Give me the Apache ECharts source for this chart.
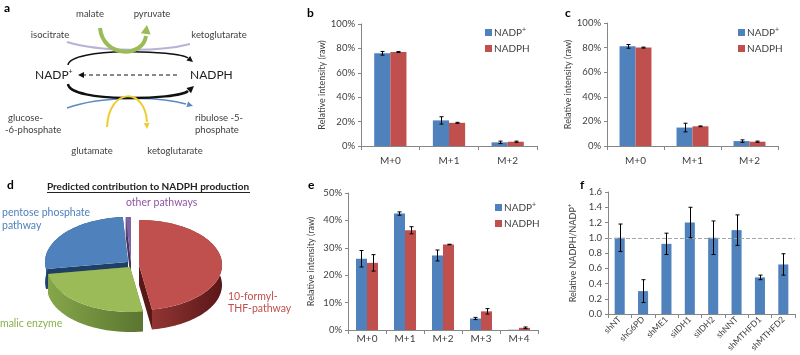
<!DOCTYPE html>
<html>
<head>
<meta charset="utf-8">
<script src="https://cdn.jsdelivr.net/npm/echarts@6/dist/echarts.min.js"></script>
<style>
html, body { margin: 0; padding: 0; background: #fff; }
#chart { width: 800px; height: 355px; }
</style>
</head>
<body>
<div id="chart"></div>
<script>
const FONT = 'Lato';
const BLUE = '#4F81BD';
const RED = '#C0504D';
const INK = '#404040';

// b: isotope labelling of NADP+/NADPH (raw)
const isoB = ['M+0', 'M+1', 'M+2'];
const bNadp = [76, 21, 3];
const bNadpErr = [1.5, 3, 1];
const bNadph = [77, 19, 3.5];
const bNadphErr = [0.4, 0.4, 0.5];

// c
const cNadp = [81, 15, 4];
const cNadpErr = [1.5, 3.5, 1];
const cNadph = [80, 16, 3.5];
const cNadphErr = [0.4, 0.3, 0.5];

// e
const isoE = ['M+0', 'M+1', 'M+2', 'M+3', 'M+4'];
const eNadp = [26, 42.5, 27.2, 4.2, 0.1];
const eNadpErr = [3, 0.6, 2, 0.4, 0];
const eNadph = [24.5, 36.4, 31.2, 6.8, 0.8];
const eNadphErr = [3, 1.3, 0.1, 1, 0.3];

// f: knockdowns
const knockdowns = ['shNT', 'shG6PD', 'shME1', 'siIDH1', 'siIDH2', 'shNNT', 'shMTHFD1', 'shMTHFD2'];
const ratio = [1.0, 0.3, 0.92, 1.2, 1.0, 1.1, 0.48, 0.65];
const ratioErr = [0.18, 0.15, 0.14, 0.2, 0.22, 0.2, 0.03, 0.14];

// d: predicted contribution (%)
const pieNames = ['10-formyl-THF-pathway', 'malic enzyme', 'pentose phosphate pathway', 'other pathways'];
const pieValues = [47.5, 25, 26.5, 1];

// pie drawing style
const PIE = { cx: 130, cy: 265, rx: 83, ry: 45, depth: 20 };
const pieTop = ['#C0504D', '#9BBB59', '#4F81BD', '#8064A2'];
const pieSide = [['#9c3b39', '#5a1717'], ['#86a64a', '#5a7530'], ['#2f5a8c', '#1f3f66'], ['#5e4880', '#45335f']];
const pieShift = [[9, 0], [0, 2], [-2, -3], [1, -3]];

const chart = echarts.init(document.getElementById('chart'));

function xAx(gi, data, fs, rotate, margin) {
  return {
    type: 'category', gridIndex: gi, data: data,
    axisLine: { lineStyle: { color: '#868686' } },
    axisTick: { show: true, length: 4, lineStyle: { color: '#868686' } },
    axisLabel: { fontSize: fs, color: INK, fontFamily: FONT, rotate: rotate, margin: margin, interval: 0 }
  };
}

function yAx(gi, max, interval, fmt, name, gap) {
  return {
    type: 'value', gridIndex: gi, min: 0, max: max, interval: interval,
    axisLine: { show: true, lineStyle: { color: '#868686' } },
    axisTick: { show: true, length: 3, lineStyle: { color: '#868686' } },
    splitLine: { show: false },
    axisLabel: { fontSize: 9.5, color: INK, fontFamily: FONT, margin: 6, formatter: fmt },
    name: name, nameLocation: 'middle', nameGap: gap,
    nameTextStyle: {
      fontSize: 9, color: INK, fontFamily: FONT,
      rich: { n: { fontSize: 9, color: INK, fontFamily: FONT }, s: { fontSize: 6, color: INK, fontFamily: FONT, padding: [0, 0, 6, 0] } }
    }
  };
}

function bar(name, gi, vals, color, gap) {
  return {
    type: 'bar', name: name, xAxisIndex: gi, yAxisIndex: gi, data: vals,
    barCategoryGap: gap, barGap: '0%', itemStyle: { color: color }, silent: true
  };
}

function errs(gi, vals, err, side, gap, nBars) {
  return {
    type: 'custom', xAxisIndex: gi, yAxisIndex: gi, silent: true, z: 5,
    data: vals.map((v, i) => [i, v, err[i]]),
    renderItem: function (params, api) {
      const i = api.value(0), v = api.value(1), e = api.value(2);
      if (!(e > 0)) return null;
      const hi = api.coord([i, v + e]);
      const lo = api.coord([i, v - e]);
      const bw = api.size([1, 0])[0] * (1 - gap) / nBars;
      const x = Math.round(hi[0] + side * bw / 2) + 0.5;
      const st = { stroke: '#000', lineWidth: 1 };
      return {
        type: 'group', children: [
          { type: 'line', shape: { x1: x, y1: hi[1], x2: x, y2: lo[1] }, style: st },
          { type: 'line', shape: { x1: x - 2, y1: hi[1], x2: x + 2, y2: hi[1] }, style: st },
          { type: 'line', shape: { x1: x - 2, y1: lo[1], x2: x + 2, y2: lo[1] }, style: st }
        ]
      };
    }
  };
}

// 3D-looking elliptical pie built from pieValues
const pieTotal = pieValues.reduce((a, b) => a + b, 0);
function pieRender(params, api) {
  const i = params.dataIndex;
  let before = 0;
  for (let k = 0; k < i; k++) before += pieValues[k];
  const t1 = before / pieTotal * Math.PI * 2;
  const t2 = (before + pieValues[i]) / pieTotal * Math.PI * 2;
  const mid = (t1 + t2) / 2;
  // slices nearer the viewer (bottom) get their walls drawn on top
  const front = 2 + 3 * (1 - Math.cos(mid)) / 2;
  const ox = PIE.cx + pieShift[i][0];
  const oy = PIE.cy + pieShift[i][1];
  const pt = (t, d) => [ox + PIE.rx * Math.sin(t), oy - PIE.ry * Math.cos(t) + d];
  const n = Math.max(2, Math.ceil((t2 - t1) / 0.03));
  const arcTop = [], arcBot = [];
  for (let k = 0; k <= n; k++) {
    const t = t1 + (t2 - t1) * k / n;
    arcTop.push(pt(t, 0));
    arcBot.push(pt(t, PIE.depth));
  }
  const grad = { type: 'linear', x: 0, y: 0, x2: 1, y2: 0, colorStops: [{ offset: 0, color: pieSide[i][0] }, { offset: 1, color: pieSide[i][1] }] };
  const D = PIE.depth;
  return {
    type: 'group', children: [
      { type: 'polygon', z2: front, shape: { points: [[ox, oy], pt(t1, 0), pt(t1, D), [ox, oy + D]] }, style: { fill: pieSide[i][1] } },
      { type: 'polygon', z2: front, shape: { points: [[ox, oy], pt(t2, 0), pt(t2, D), [ox, oy + D]] }, style: { fill: pieSide[i][1] } },
      { type: 'polygon', z2: front + 0.1, shape: { points: arcTop.concat(arcBot.slice().reverse()) }, style: { fill: grad } },
      { type: 'polygon', z2: 10, shape: { points: [[ox, oy]].concat(arcTop) }, style: { fill: pieTop[i] } }
    ]
  };
}

// arrowhead helper for the scheme in panel a
function head(x, y, ang, color, len, wid) {
  const a = ang * Math.PI / 180, c = Math.cos(a), s = Math.sin(a);
  const bx = x - c * len, by = y - s * len;
  return { type: 'polygon', shape: { points: [[x, y], [bx - s * wid, by + c * wid], [bx + s * wid, by - c * wid]] }, style: { fill: color } };
}
function curve(x1, y1, c1x, c1y, c2x, c2y, x2, y2, color, w) {
  return { type: 'bezierCurve', shape: { x1: x1, y1: y1, cpx1: c1x, cpy1: c1y, cpx2: c2x, cpy2: c2y, x2: x2, y2: y2 }, style: { stroke: color, lineWidth: w, fill: null } };
}
function txt(text, x, y, size, color, align, weight) {
  return { type: 'text', style: { text: text, x: x, y: y, fontSize: size, fill: color || INK, align: align || 'left', verticalAlign: 'middle', fontFamily: FONT, fontWeight: weight || 'normal' } };
}
const supRich = { n: { fontSize: 12, fill: '#222', fontFamily: FONT }, s: { fontSize: 7, fill: '#222', fontFamily: FONT, padding: [0, 0, 7, 0] } };

const graphic = [
  // panel a scheme
  curve(67, 42, 100, 52, 160, 52, 190, 44, '#b8b2d6', 2),
  curve(67, 108, 100, 96, 160, 96, 186, 104, '#5b8ac4', 1.5), head(193, 106, 17, '#5b8ac4', 6, 3),
  curve(68, 65, 70, 47, 178, 50, 188, 58, '#111', 1.5), head(193, 62, 39, '#111', 6, 3),
  curve(68, 84, 70, 103, 178, 100, 188, 91, '#111', 2.5), head(194, 86, -41, '#111', 7, 3.5),
  { type: 'line', shape: { x1: 177, y1: 75, x2: 84, y2: 75 }, style: { stroke: '#111', lineWidth: 1, lineDash: [4, 3] } },
  head(78, 75, 180, '#111', 6, 3),
  curve(100, 28, 103, 58, 143, 58, 146, 36, '#9BBB59', 4), head(147, 25, -82, '#9BBB59', 9, 5),
  curve(107, 127, 109, 87, 145, 87, 147, 122, '#f0cc30', 2), head(147, 129, 87, '#f0cc30', 6, 3),
  txt('a', 4, 8, 12, '#000', 'left', 'bold'),
  txt('malate', 90, 14, 9.5, INK, 'center'),
  txt('pyruvate', 152, 14, 9.5, INK, 'center'),
  txt('isocitrate', 50, 35, 9.5, INK, 'center'),
  txt('ketoglutarate', 219, 35, 9.5, INK, 'center'),
  { type: 'text', style: { text: '{n|NADP}{s|+}', x: 35, y: 75, verticalAlign: 'middle', rich: supRich } },
  txt('NADPH', 190, 75, 12, '#222', 'left'),
  txt('glucose-', 8, 118, 9.5, INK, 'left'),
  txt('-6-phosphate', 5, 130, 9.5, INK, 'left'),
  txt('ribulose -5-', 195, 118, 9.5, INK, 'left'),
  txt('phosphate', 195, 130, 9.5, INK, 'left'),
  txt('glutamate', 92, 151, 9.5, INK, 'center'),
  txt('ketoglutarate', 175, 151, 9.5, INK, 'center'),
  // panel letters
  txt('b', 307, 13, 12, '#000', 'left', 'bold'),
  txt('c', 565, 13, 12, '#000', 'left', 'bold'),
  txt('d', 7, 185, 12, '#000', 'left', 'bold'),
  txt('e', 308, 185, 12, '#000', 'left', 'bold'),
  txt('f', 580, 185, 12, '#000', 'left', 'bold'),
  // panel d title and slice labels
  txt('Predicted contribution to NADPH production', 148, 187, 10, '#222', 'center', 'bold'),
  { type: 'line', shape: { x1: 47, y1: 192.5, x2: 250, y2: 192.5 }, style: { stroke: '#222', lineWidth: 1 } },
  txt('pentose phosphate', 2, 213, 10.5, '#4F81BD'),
  txt('pathway', 2, 226, 10.5, '#4F81BD'),
  txt(pieNames[3], 126, 203, 10.5, '#9055a8'),
  txt('10-formyl-', 228, 297, 10.5, '#C0504D'),
  txt('THF-pathway', 228, 309, 10.5, '#C0504D'),
  txt(pieNames[1], 0, 324, 10.5, '#8bb04a')
];

const legendBase = {
  orient: 'vertical', icon: 'rect', itemWidth: 7, itemHeight: 7, itemGap: 6, selectedMode: false,
  data: ['NADP+', 'NADPH'],
  formatter: n => n === 'NADP+' ? '{n|NADP}{s|+}' : '{n|NADPH}',
  textStyle: {
    fontFamily: FONT, color: INK, padding: [0, 0, 0, -3],
    rich: { n: { fontSize: 10, color: INK, fontFamily: FONT }, s: { fontSize: 7, color: INK, fontFamily: FONT, padding: [0, 0, 6, 0] } }
  }
};

const option = {
  animation: false,
  backgroundColor: '#fff',
  textStyle: { fontFamily: FONT },
  grid: [
    { left: 361, right: 263, top: 24, bottom: 209 },
    { left: 607, right: 22, top: 23, bottom: 209 },
    { left: 348, right: 262, top: 193, bottom: 25 },
    { left: 608, right: 5, top: 192, bottom: 41 }
  ],
  legend: [
    Object.assign({ left: 480, top: 21 }, legendBase),
    Object.assign({ left: 733, top: 21 }, legendBase),
    Object.assign({ left: 490, top: 196 }, legendBase)
  ],
  xAxis: [
    xAx(0, isoB, 10, 0, 10),
    xAx(1, isoB, 10, 0, 10),
    xAx(2, isoE, 10, 0, 4),
    xAx(3, knockdowns, 8.5, 45, 4)
  ],
  yAxis: [
    yAx(0, 100, 20, '{value}%', 'Relative intensity (raw)', 20),
    yAx(1, 100, 20, '{value}%', 'Relative intensity (raw)', 26),
    yAx(2, 50, 10, '{value}%', 'Relative intensity (raw)', 32),
    yAx(3, 1.6, 0.2, v => v.toFixed(1), '{n|Relative NADPH/NADP}{s|+}', 29)
  ],
  graphic: graphic,
  series: [
    bar('NADP+', 0, bNadp, BLUE, '45%'), bar('NADPH', 0, bNadph, RED, '45%'),
    errs(0, bNadp, bNadpErr, -1, 0.45, 2), errs(0, bNadph, bNadphErr, 1, 0.45, 2),
    bar('NADP+', 1, cNadp, BLUE, '44%'), bar('NADPH', 1, cNadph, RED, '44%'),
    errs(1, cNadp, cNadpErr, -1, 0.44, 2), errs(1, cNadph, cNadphErr, 1, 0.44, 2),
    bar('NADP+', 2, eNadp, BLUE, '42%'), bar('NADPH', 2, eNadph, RED, '42%'),
    errs(2, eNadp, eNadpErr, -1, 0.42, 2), errs(2, eNadph, eNadphErr, 1, 0.42, 2),
    Object.assign(bar('ratio', 3, ratio, BLUE, '57%'), {
      markLine: {
        silent: true, symbol: 'none', label: { show: false },
        lineStyle: { type: 'dashed', color: '#a6a6a6', width: 1 },
        data: [{ yAxis: 1 }]
      }
    }),
    errs(3, ratio, ratioErr, 0, 0.57, 1),
    {
      type: 'custom', coordinateSystem: 'none', silent: true,
      data: pieValues.map((v, i) => [v, i]),
      renderItem: pieRender
    }
  ]
};

chart.setOption(option);
</script>
</body>
</html>
